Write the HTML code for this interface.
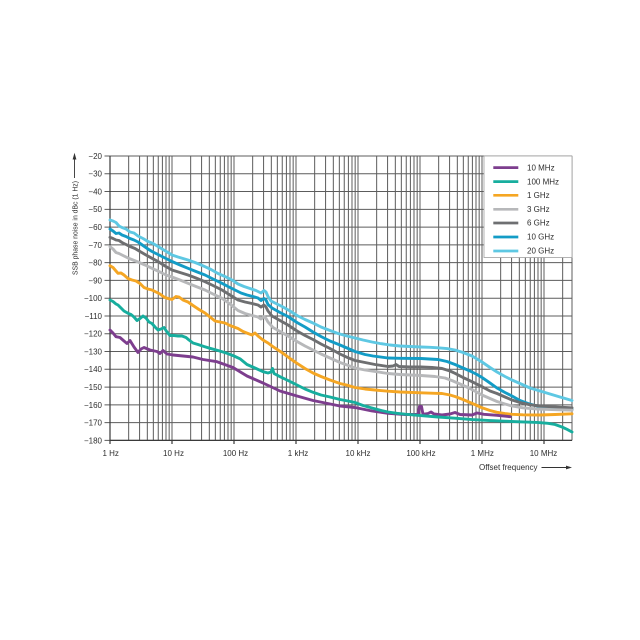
<!DOCTYPE html>
<html><head><meta charset="utf-8"><style>
html,body{margin:0;padding:0;background:#fff;}
svg{display:block;}
text{font-family:"Liberation Sans",sans-serif;fill:#2e2e2e;}
</style></head><body>
<svg width="640" height="640" viewBox="0 0 640 640" xmlns="http://www.w3.org/2000/svg">
<rect width="640" height="640" fill="#fff"/>
<!-- vertical grid -->
<g stroke="#5c5c5c" stroke-width="1" fill="none">
<path d="M110 156V440.4M128.66 156V440.4M139.58 156V440.4M147.33 156V440.4M153.34 156V440.4M158.25 156V440.4M162.4 156V440.4M165.99 156V440.4M169.16 156V440.4
M172 156V440.4M190.66 156V440.4M201.58 156V440.4M209.33 156V440.4M215.34 156V440.4M220.25 156V440.4M224.4 156V440.4M227.99 156V440.4M231.16 156V440.4
M234 156V440.4M252.66 156V440.4M263.58 156V440.4M271.33 156V440.4M277.34 156V440.4M282.25 156V440.4M286.4 156V440.4M289.99 156V440.4M293.16 156V440.4
M296 156V440.4M314.66 156V440.4M325.58 156V440.4M333.33 156V440.4M339.34 156V440.4M344.25 156V440.4M348.4 156V440.4M351.99 156V440.4M355.16 156V440.4
M358 156V440.4M376.66 156V440.4M387.58 156V440.4M395.33 156V440.4M401.34 156V440.4M406.25 156V440.4M410.4 156V440.4M413.99 156V440.4M417.16 156V440.4
M420 156V440.4M438.66 156V440.4M449.58 156V440.4M457.33 156V440.4M463.34 156V440.4M468.25 156V440.4M472.4 156V440.4M475.99 156V440.4M479.16 156V440.4
M482 156V440.4M500.66 156V440.4M511.58 156V440.4M519.33 156V440.4M525.34 156V440.4M530.25 156V440.4M534.4 156V440.4M537.99 156V440.4M541.16 156V440.4
M544 156V440.4M562.66 156V440.4M572 156V440.4"/>
</g>
<!-- horizontal grid -->
<g stroke="#5c5c5c" stroke-width="1" fill="none">
<path d="M104.5 156H572M104.5 173.78H572M104.5 191.55H572M104.5 209.33H572M104.5 227.1H572M104.5 244.88H572M104.5 262.65H572M104.5 280.43H572M104.5 298.2H572M104.5 315.98H572M104.5 333.75H572M104.5 351.53H572M104.5 369.3H572M104.5 387.08H572M104.5 404.85H572M104.5 422.63H572M104.5 440.4H572"/>
</g>
<!-- axes -->
<g stroke="#3a3a3a" stroke-width="1.2" fill="none">
<path d="M110 156V444M110 440.4H572M172 440.4V444M234 440.4V444M296 440.4V444M358 440.4V444M420 440.4V444M482 440.4V444M544 440.4V444"/>
</g>
<!-- legend box -->
<rect x="484" y="156" width="88" height="101.5" fill="#fff" stroke="#a0a0a0" stroke-width="0.8"/>
<!-- curves -->
<g fill="none" stroke-width="2.9" stroke-linejoin="round" stroke-linecap="round">
<polyline stroke="#5ec8e3" points="110,220 113,221 116,222.5 119,226 122,227.5 126,229 130,232 134,233 138,236 143,238.5 148,241.5 153,243.5 158,246.5 163,249.5 168,252.5 172,255 178,257 183,258.5 188,260 195,262.5 200,264.5 205,266.7 211,269.5 218,273.5 225,276.5 232,280 238,284 244,286.5 250,288.5 256,290.5 261,293 264,290.5 266,292 268,296.5 271,301 276,303.5 283,307 290,311 297,315.5 305,319.5 313,323 321,327 330,330.5 338,333.5 347,336 355,338 363,340 372,342 380,343.5 390,345 400,346 410,346.5 421,347 430,347.3 438,347.8 447,348.6 455,350 463,352.5 472,356 482,362 490,367.5 497,372 505,376.5 512,380 520,383.5 530,388 540,391 550,394 560,397 572,400.5"/>
<polyline stroke="#139cc6" points="110,229 113,231 116,233.5 119,233 122,235 126,236.5 130,238.5 134,240 138,242 143,245.5 148,249 152,251.5 158,254.5 165,258 172,261.5 180,265 188,268.3 196,271.5 205,275 213,279 222,283.3 228,286.5 235,290 241,293 247,295 253,296.5 258,298 261,300.5 264,298.5 266,300 268,304.5 272,308 280,312.5 288,316.5 297,322.5 305,327 313,332 321,336.5 330,341 340,345 347,348 355,351.5 365,354.5 373,356 388,358 400,358.3 421,358.5 438,359.5 447,361.5 455,364.5 463,368 470,371 477,374.5 482,377.5 490,383 497,388 505,392.5 512,396 520,400.5 528,403.5 537,406 545,407.5 555,408.5 572,409.5"/>
<polyline stroke="#6e6f71" points="110,237.3 113,238.5 116,240 119,240.5 122,242.5 126,244.5 130,246.5 135,248.5 140,251.5 146,255 152,258.3 158,261.5 165,266 172,270 180,272.5 188,275 196,278 205,281.7 213,285.5 222,290 230,295 238,300 245,302 252,303.5 258,305 261,307 264,305 266,307 268,311 272,316 280,320.5 288,325 297,331 305,335.5 313,339.5 321,344 330,348.5 340,354 347,357.3 355,360.5 365,362.5 375,364.5 388,366.5 393,366 396,364.5 399,366.5 410,367 421,367 432,367.5 442,368.5 450,371 455,373.3 463,377.5 472,381.7 482,386.7 490,391 497,393.5 505,397 512,400 520,402.5 530,404.8 540,406 553,406.8 572,407.8"/>
<polyline stroke="#b7b8ba" points="110,246.7 113,249 116,252.5 119,253.5 123,255.5 128,258 133,260 138,262 145,265 152,268.3 160,272 166,275 172,277 180,280 188,283.3 196,286.5 205,290 213,294 222,298.3 230,304 238,310.5 245,313.5 252,315.5 258,317 261,319 264,316.5 266,318.5 268,322 273,327.5 280,331.5 288,336 297,341.5 305,346 313,350 321,354 330,358 340,362.5 347,365 355,368 365,370 375,371.5 388,373.5 400,374.5 421,375.5 435,376.5 445,378 453,381 460,384 470,388.5 482,395 490,398.5 497,401.5 505,404 512,406 523,407.8 537,409 555,409.7 572,410.2"/>
<polyline stroke="#f5a623" points="110,265.7 113,267.5 116,271 118,273.3 121,273 124,275 128,278.5 132,280 136,281 140,283.5 144,287.5 148,289 152,290 156,292 160,294 164,297 168,298.5 172,299.5 176,296.5 179,297 183,300 188,302 193,305.5 199,309.5 205,313 210,317 215,321 220,322 225,323 230,325.5 234,327 238,328.5 243,331.5 248,333.5 252,335 255,333 258,336 263,340 268,343 273,346.7 278,350 283,353.3 290,358.5 297,363.3 305,368.5 313,373 321,376.5 330,380 340,383.5 347,385.2 355,387.5 365,389 375,390 388,391.2 400,392 421,392.8 435,393.3 442,393.5 450,395 455,396.5 463,399.5 470,402.5 477,405.5 482,407.8 490,410.5 497,412.3 505,413.6 512,414.3 523,414.8 540,415 555,414.5 572,413.8"/>
<polyline stroke="#7d3e8e" points="110,330 113,333 116,336.7 120,337.5 124,341 127,343.5 130,340.5 134,347 138,352.5 141,349 144,347.5 150,350 157,351.5 160,353.5 163,350.5 167,354 173,355 183,356 193,357 203,359.5 217,361.7 233,367.5 247,376 263,383 280,391 297,396 313,400.5 340,406 355,407.5 372,411 388,413.3 405,414.5 418,414.5 419.5,406.5 421.5,406.5 423,414.3 428,413.5 431,412 434,414 442,415 450,414 455,412.5 460,414.5 472,415 477,413 484,414.3 497,415.3 510,416.7"/>
<polyline stroke="#17ae9e" points="110,300 113,301.5 116,304 118,305 121,308 124,311 128,313.3 131,314.5 134,317 137,320.5 140,318.5 143,316 146,318 149,322 152,323.5 155,327 158,330 161,329 164,327.5 167,332 170,335.5 174,335.5 178,336 182,336 186,337.5 189,340 193,343 198,344.5 204,346.5 210,348.3 218,350.5 227,353.3 234,356 240,358.8 247,364.5 255,368 263,371.7 268,373 271,372 272.5,368.5 274,373.5 280,376.7 288,380.5 297,385 305,389 313,392.3 321,395 330,397 340,399.5 348,401 355,402.5 363,405.5 372,408 380,410.2 388,412 397,413.3 405,414.2 422,415.7 438,417 455,418.2 472,419.6 490,420.6 505,421.2 520,421.8 537,422.4 548,423.3 555,424.5 562,427 567,429.3 572,432"/>
</g>
<!-- legend entries -->
<g stroke-width="2.7" fill="none">
<path d="M493.3 167.6H518.3" stroke="#7d3e8e"/>
<path d="M493.3 181.6H518.3" stroke="#17ae9e"/>
<path d="M493.3 195.3H518.3" stroke="#f5a623"/>
<path d="M493.3 209.3H518.3" stroke="#b7b8ba"/>
<path d="M493.3 223H518.3" stroke="#6e6f71"/>
<path d="M493.3 237H518.3" stroke="#139cc6"/>
<path d="M493.3 251H518.3" stroke="#5ec8e3"/>
</g>
<g font-size="8">
<text x="527" y="170.3">10 MHz</text>
<text x="527" y="184.3">100 MHz</text>
<text x="527" y="198">1 GHz</text>
<text x="527" y="212">3 GHz</text>
<text x="527" y="225.7">6 GHz</text>
<text x="527" y="239.7">10 GHz</text>
<text x="527" y="253.7">20 GHz</text>
</g>
<!-- y labels -->
<g font-size="8" text-anchor="end">
<text x="102" y="158.9">−20</text>
<text x="102" y="176.7">−30</text>
<text x="102" y="194.5">−40</text>
<text x="102" y="212.2">−50</text>
<text x="102" y="230">−60</text>
<text x="102" y="247.8">−70</text>
<text x="102" y="265.6">−80</text>
<text x="102" y="283.3">−90</text>
<text x="102" y="301.1">−100</text>
<text x="102" y="318.9">−110</text>
<text x="102" y="336.7">−120</text>
<text x="102" y="354.4">−130</text>
<text x="102" y="372.2">−140</text>
<text x="102" y="390">−150</text>
<text x="102" y="407.8">−160</text>
<text x="102" y="425.5">−170</text>
<text x="102" y="443.3">−180</text>
</g>
<!-- x labels -->
<g font-size="8" text-anchor="middle">
<text x="110.7" y="456">1 Hz</text>
<text x="173.5" y="456">10 Hz</text>
<text x="235.5" y="456">100 Hz</text>
<text x="298" y="456">1 kHz</text>
<text x="358" y="456">10 kHz</text>
<text x="421" y="456">100 kHz</text>
<text x="482.3" y="456">1 MHz</text>
<text x="543.5" y="456">10 MHz</text>
</g>
<text x="479" y="470" font-size="8">Offset frequency</text>
<path d="M541.5 467.5H567" stroke="#333" stroke-width="0.9"/>
<path d="M566 465.6L572 467.5L566 469.4Z" fill="#333"/>
<!-- y title -->
<text transform="translate(77.3,228) rotate(-90)" font-size="7.6" text-anchor="middle" textLength="94" lengthAdjust="spacingAndGlyphs">SSB phase noise in dBc (1 Hz)</text>
<path d="M74.5 159V178" stroke="#333" stroke-width="0.9"/>
<path d="M72.6 159.5L74.5 152.8L76.4 159.5Z" fill="#333"/>
</svg>
</body></html>
